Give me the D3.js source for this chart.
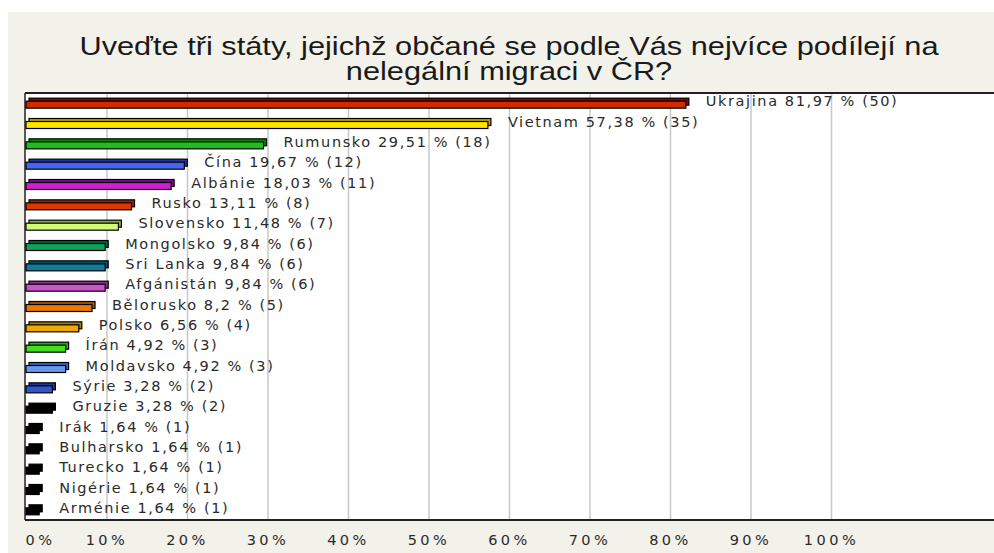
<!DOCTYPE html>
<html>
<head>
<meta charset="utf-8">
<script src="https://cdn.jsdelivr.net/npm/d3@7"></script>
<style>
  body { margin: 0; background: #fff; }
  svg { display: block; }
  .title { font-family: "Liberation Sans", Arial, sans-serif; fill: #1a1a1a; }
  .lbl { font-family: "DejaVu Sans", Verdana, sans-serif; fill: #2a2a2a; }
  .axis text { font-family: "DejaVu Sans", Verdana, sans-serif; fill: #2a2a2a; }
</style>
</head>
<body>
<svg class="chart"></svg>
<script>
// chart values
var categories = ["Ukrajina", "Vietnam", "Rumunsko", "Čína", "Albánie", "Rusko", "Slovensko",
	"Mongolsko", "Sri Lanka", "Afgánistán", "Bělorusko", "Polsko", "Írán", "Moldavsko",
	"Sýrie", "Gruzie", "Irák", "Bulharsko", "Turecko", "Nigérie", "Arménie"];
var percents = [81.97, 57.38, 29.51, 19.67, 18.03, 13.11, 11.48, 9.84, 9.84, 9.84, 8.2,
	6.56, 4.92, 4.92, 3.28, 3.28, 1.64, 1.64, 1.64, 1.64, 1.64];
var counts = [50, 35, 18, 12, 11, 8, 7, 6, 6, 6, 5, 4, 3, 3, 2, 2, 1, 1, 1, 1, 1];
var frontColors = ["#d02a00", "#ffe400", "#22bb22", "#4466ee", "#cc22cc", "#dd3a00", "#ccff77",
	"#11a060", "#147a99", "#cc55cc", "#ee7700", "#eeaa00", "#44dd22", "#6699ee",
	"#3355cc", "#000000", "#000000", "#000000", "#000000", "#000000", "#000000"];
var topColors = ["#880000", "#c0a000", "#008800", "#2233aa", "#8800aa", "#992200", "#88aa44",
	"#006633", "#005566", "#883388", "#aa5500", "#aa7700", "#22aa11", "#3366bb",
	"#223399", "#000000", "#000000", "#000000", "#000000", "#000000", "#000000"];
var tickValues = [0, 10, 20, 30, 40, 50, 60, 70, 80, 90, 100];
var titleLines = ["Uveďte tři státy, jejichž občané se podle Vás nejvíce podílejí na",
	"nelegální migraci v ČR?"];

draw_bars();

function draw_bars() {

	var width = 994,
		height = 553,
		plotTop = 93,
		plotBottom = 520,
		plotLeft = 25,
		titleStretch = 1.23; // source picture is stretched sideways

	var data = categories.map(function(c, i) {
		return { name: c, value: percents[i], count: counts[i], front: frontColors[i], top: topColors[i] };
	});

	var x = d3.scaleLinear()
		.domain([0, 100])
		.range([26, 831]);

	var y = d3.scaleBand()
		.domain(categories)
		.range([plotTop, plotBottom]);

	var svg = d3.select(".chart")
		.attr("width", width)
		.attr("height", height);

	// beige panel
	svg.append("rect")
		.attr("x", 8).attr("y", 12)
		.attr("width", width - 8).attr("height", height - 12)
		.attr("fill", "#f3f2ea");

	// white plot area
	svg.append("rect")
		.attr("x", plotLeft).attr("y", plotTop)
		.attr("width", width - plotLeft).attr("height", plotBottom - plotTop)
		.attr("fill", "#fff");

	// title
	svg.selectAll(".title")
		.data(titleLines)
	  .enter().append("text")
		.attr("class", "title")
		.attr("transform", function(d, i) {
			return "translate(509," + (55 + i * 25) + ") scale(" + titleStretch + ",1)";
		})
		.attr("text-anchor", "middle")
		.style("font-size", "25px")
		.text(function(d) { return d; });

	// gridlines
	var grid = d3.axisBottom(x)
		.tickValues(tickValues.slice(1))
		.tickSize(-(plotBottom - plotTop))
		.tickFormat("");
	svg.append("g")
		.attr("class", "grid")
		.attr("transform", "translate(0," + plotBottom + ")")
		.call(grid)
		.call(function(g) { g.select(".domain").remove(); })
		.selectAll("line")
		.attr("stroke", "#c8c8c8")
		.attr("stroke-width", 1.5);

	// frame
	svg.append("line")
		.attr("x1", plotLeft).attr("x2", width)
		.attr("y1", plotTop).attr("y2", plotTop)
		.attr("stroke", "#222").attr("stroke-width", 2);
	svg.append("line")
		.attr("x1", plotLeft).attr("x2", width)
		.attr("y1", plotBottom).attr("y2", plotBottom)
		.attr("stroke", "#222").attr("stroke-width", 2);
	svg.append("line")
		.attr("x1", plotLeft).attr("x2", plotLeft)
		.attr("y1", plotTop).attr("y2", plotBottom)
		.attr("stroke", "#222").attr("stroke-width", 1.5);

	// bars: back face then front face
	var bars = svg.selectAll(".bar")
		.data(data)
	  .enter().append("g")
		.attr("class", "bar");

	bars.append("rect")
		.attr("x", x(0) + 3)
		.attr("y", function(d) { return y(d.name) + y.bandwidth() / 2 - 5; })
		.attr("width", function(d) { return x(d.value) - x(0); })
		.attr("height", 7)
		.attr("fill", function(d) { return d.top; })
		.attr("stroke", "#000")
		.attr("stroke-width", 1.2);

	bars.append("rect")
		.attr("x", x(0))
		.attr("y", function(d) { return y(d.name) + y.bandwidth() / 2 - 2; })
		.attr("width", function(d) { return x(d.value) - x(0); })
		.attr("height", 7)
		.attr("fill", function(d) { return d.front; })
		.attr("stroke", "#000")
		.attr("stroke-width", 1.2);

	// value labels
	svg.selectAll(".lbl")
		.data(data)
	  .enter().append("text")
		.attr("class", "lbl")
		.attr("x", function(d) { return x(d.value) + 20; })
		.attr("y", function(d) { return y(d.name) + y.bandwidth() / 2 + 3; })
		.style("font-size", "14.5px")
		.style("letter-spacing", "1.6px")
		.text(function(d) {
			return d.name + " " + String(d.value).replace(".", ",") + " % (" + d.count + ")";
		});

	// x axis labels
	var xAxis = d3.axisBottom(x)
		.tickValues(tickValues)
		.tickSize(0)
		.tickPadding(15)
		.tickFormat(function(d) { return d + "%"; });
	var ax = svg.append("g")
		.attr("class", "axis")
		.attr("transform", "translate(0," + plotBottom + ")")
		.call(xAxis);
	ax.select(".domain").remove();
	ax.selectAll("text")
		.style("font-size", "14.5px")
		.style("letter-spacing", "3.5px");
	ax.selectAll(".tick").filter(function(d) { return d === 0; })
		.select("text")
		.attr("text-anchor", "start")
		.attr("x", -1);
}
</script>
</body>
</html>
